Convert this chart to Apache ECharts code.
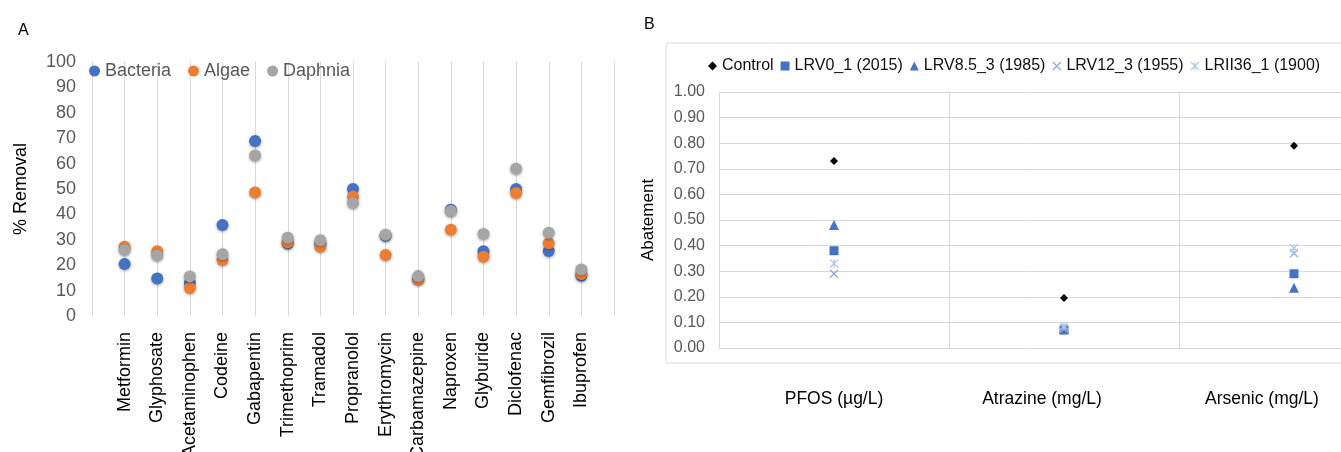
<!DOCTYPE html>
<html>
<head>
<meta charset="utf-8">
<title>Removal and abatement</title>
<script src="https://cdn.jsdelivr.net/npm/echarts@6/dist/echarts.min.js"></script>
<style>
	html, body { margin: 0; padding: 0; background: #fff; }
	#main { width: 1341px; height: 452px; }
</style>
</head>
<body>
<div id="main"></div>
<script>
// panel A: % removal per compound
var compounds = ['Metformin', 'Glyphosate', 'Acetaminophen', 'Codeine', 'Gabapentin', 'Trimethoprim', 'Tramadol',
	'Propranolol', 'Erythromycin', 'Carbamazepine', 'Naproxen', 'Glyburide', 'Diclofenac', 'Gemfibrozil', 'Ibuprofen'];
var bacteria = [20.5, 14.8, 13.0, 35.8, 68.9, 28.5, 28.5, 50.0, 31.6, 14.5, 41.8, 25.5, 50.0, 25.6, 15.8];
var algae = [27.3, 25.5, 11.0, 22.0, 48.6, 29.0, 27.3, 47.0, 24.0, 14.5, 34.0, 23.3, 48.4, 28.6, 16.5];
var daphnia = [26.0, 23.8, 15.6, 24.3, 63.2, 30.8, 29.8, 44.5, 32.0, 15.7, 41.3, 32.3, 58.0, 32.8, 18.3];

// panel B: abatement per contaminant
var contaminants = ['PFOS (µg/L)', 'Atrazine (mg/L)', 'Arsenic (mg/L)'];
var control = [0.73, 0.195, 0.79];
var lrv0_1 = [0.38, 0.07, 0.29];
var lrv85_3 = [0.48, 0.075, 0.235];
var lrv12_3 = [0.29, 0.075, 0.37];
var lrii36_1 = [0.33, 0.085, 0.39];

var FONT = 'Liberation Sans, Arial, sans-serif';
var GREY = '#595959';
var GRID = '#d9d9d9';

// x and star markers as filled paths
var crossPath = 'path://M0,1L1,0L10,9L9,10Z M9,0L10,1L1,10L0,9Z';
var starPath = 'path://M0,1L1,0L10,9L9,10Z M9,0L10,1L1,10L0,9Z M4.4,0L5.6,0L5.6,10L4.4,10Z';

function toPoints(arr) {
	return arr.map(function (v, i) { return [i + 1, v]; });
}

function dotSeries(name, arr, color) {
	return {
		name: name, type: 'scatter', xAxisIndex: 0, yAxisIndex: 0,
		symbol: 'circle', symbolSize: 12,
		itemStyle: { color: color, opacity: 1, shadowBlur: 3, shadowColor: 'rgba(0,0,0,0.35)', shadowOffsetY: 1 },
		data: toPoints(arr)
	};
}

function markSeries(name, arr, symbol, size, color) {
	return {
		name: name, type: 'scatter', xAxisIndex: 1, yAxisIndex: 1,
		symbol: symbol, symbolSize: size, symbolKeepAspect: true,
		itemStyle: { color: color, opacity: 1 },
		data: arr
	};
}

var myChart = echarts.init(document.getElementById('main'));
var option = {
	animation: false,
	backgroundColor: '#fff',
	textStyle: { fontFamily: FONT },
	title: [
		{ text: 'A', left: 13, top: 18, textStyle: { fontFamily: FONT, fontSize: 16, fontWeight: 'normal', color: '#000' } },
		{ text: 'B', left: 639, top: 12, textStyle: { fontFamily: FONT, fontSize: 16, fontWeight: 'normal', color: '#000' } }
	],
	graphic: [{
		type: 'rect', silent: true, z: -1,
		shape: { x: 666, y: 43, width: 700, height: 320 },
		style: { fill: 'none', stroke: GRID, lineWidth: 1 }
	}],
	legend: [{
		data: ['Bacteria', 'Algae', 'Daphnia'],
		left: 84, top: 57,
		itemWidth: 11, itemHeight: 11, itemGap: 17,
		icon: 'circle',
		textStyle: { fontFamily: FONT, fontSize: 18, color: GREY }
	}, {
		data: ['Control', 'LRV0_1 (2015)', 'LRV8.5_3 (1985)', 'LRV12_3 (1955)', 'LRII36_1 (1900)'],
		left: 703, top: 53,
		itemWidth: 9, itemHeight: 9, itemGap: 7,
		textStyle: { fontFamily: FONT, fontSize: 16, color: '#111' }
	}],
	grid: [
		{ left: 92, top: 62, width: 522, height: 254, outerBoundsMode: 'none' },
		{ left: 719, top: 92, width: 690, height: 256, outerBoundsMode: 'none' }
	],
	xAxis: [{
		gridIndex: 0, type: 'value', min: 0, max: 16, interval: 1,
		axisLine: { show: false }, axisTick: { show: false },
		splitLine: { show: true, lineStyle: { color: GRID } },
		axisLabel: {
			rotate: 90, margin: 16, fontSize: 18, color: '#000', fontFamily: FONT,
			formatter: function (v) { return compounds[v - 1] || ''; }
		}
	}, {
		gridIndex: 1, type: 'category', data: contaminants, boundaryGap: true,
		axisLine: { show: false }, axisTick: { show: false },
		splitLine: { show: true, lineStyle: { color: GRID } },
		axisLabel: {
			margin: 42, fontSize: 17.5, color: '#000', fontFamily: FONT,
			formatter: function (v, i) { return '{s' + i + '|' + v + '}'; },
			rich: {
				s0: { fontSize: 17.5, color: '#000', fontFamily: FONT, padding: [0, 0, 0, 0] },
				s1: { fontSize: 17.5, color: '#000', fontFamily: FONT, padding: [0, 44, 0, 0] },
				s2: { fontSize: 17.5, color: '#000', fontFamily: FONT, padding: [0, 64, 0, 0] }
			}
		}
	}],
	yAxis: [{
		gridIndex: 0, type: 'value', min: 0, max: 100, interval: 10,
		name: '% Removal', nameLocation: 'middle', nameGap: 62, nameRotate: 90,
		nameTextStyle: { fontFamily: FONT, fontSize: 18, color: '#000' },
		axisLine: { show: false }, axisTick: { show: false }, splitLine: { show: false },
		axisLabel: { margin: 16, fontSize: 18, color: GREY, fontFamily: FONT }
	}, {
		gridIndex: 1, type: 'value', min: 0, max: 1, interval: 0.1,
		name: 'Abatement', nameLocation: 'middle', nameGap: 62, nameRotate: 90,
		nameTextStyle: { fontFamily: FONT, fontSize: 17, color: '#000' },
		axisLine: { show: false }, axisTick: { show: false },
		splitLine: { show: true, lineStyle: { color: GRID } },
		axisLabel: {
			margin: 14, fontSize: 16, color: GREY, fontFamily: FONT,
			formatter: function (v) { return v.toFixed(2); }
		}
	}],
	series: [
		dotSeries('Bacteria', bacteria, '#4472C4'),
		dotSeries('Algae', algae, '#ED7D31'),
		dotSeries('Daphnia', daphnia, '#A5A5A5'),
		markSeries('Control', control, 'diamond', 8, '#000000'),
		markSeries('LRV0_1 (2015)', lrv0_1, 'rect', 9, '#4472C4'),
		markSeries('LRV8.5_3 (1985)', lrv85_3, 'triangle', 10, '#4472C4'),
		markSeries('LRV12_3 (1955)', lrv12_3, crossPath, 9, '#8FAADC'),
		markSeries('LRII36_1 (1900)', lrii36_1, starPath, 9, '#B4C7E7')
	]
};
myChart.setOption(option);
</script>
</body>
</html>
